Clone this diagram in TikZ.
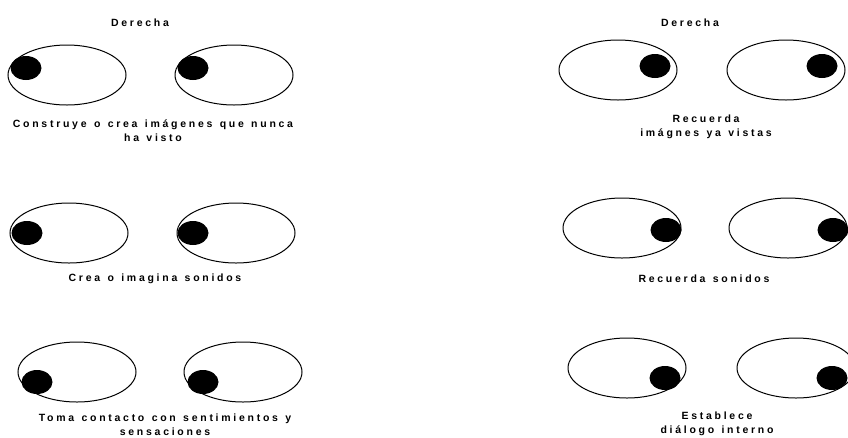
\documentclass[tikz,border=0pt]{standalone}
\usepackage{fontspec}
\newfontfamily\capfont{Liberation Sans}[LetterSpace=26, WordSpace=1.3]
\usepackage{tikz}
\usetikzlibrary{shapes.geometric}

\tikzset{
  eye/.style={draw, ellipse, line width=1pt, minimum width=118pt, minimum height=60pt, inner sep=0pt},
  pupil/.style={fill=black, ellipse, minimum width=31pt, minimum height=24pt, inner sep=0pt},
  caption/.style={font=\capfont\bfseries\fontsize{10.5}{14}\selectfont, align=center, inner sep=0pt}
}

\begin{document}
\begin{tikzpicture}[x=1pt, y=-1pt]
  \useasboundingbox (0,0) rectangle (848,437);

  % left column
  \node[caption] (derL) at (140,23) {Derecha};

  \node[eye] (eyeLa1) at (67,75) {};
  \node[eye] (eyeLb1) at (234,75) {};
  \node[pupil] (pupLa1) at (26,68) {};
  \node[pupil] (pupLb1) at (193,68) {};
  \node[caption] (capL1) at (153,131) {Construye o crea imágenes que nunca\\ha visto};

  \node[eye] (eyeLa2) at (69,233) {};
  \node[eye] (eyeLb2) at (236,233) {};
  \node[pupil] (pupLa2) at (27,233) {};
  \node[pupil] (pupLb2) at (193,233) {};
  \node[caption] (capL2) at (155,279) {Crea o imagina sonidos};

  \node[eye] (eyeLa3) at (77,372) {};
  \node[eye] (eyeLb3) at (243,372) {};
  \node[pupil] (pupLa3) at (37,382) {};
  \node[pupil] (pupLb3) at (203,382) {};
  \node[caption] (capL3) at (165,425) {Toma contacto con sentimientos y\\sensaciones};

  % right column
  \node[caption] (derR) at (690,23) {Derecha};

  \node[eye] (eyeRa1) at (618,70) {};
  \node[eye] (eyeRb1) at (786,70) {};
  \node[pupil] (pupRa1) at (655,66) {};
  \node[pupil] (pupRb1) at (822,66) {};
  \node[caption] (capR1) at (706,127) {Recuerda\\imágnes ya vistas};

  \node[eye] (eyeRa2) at (622,228) {};
  \node[eye] (eyeRb2) at (788,228) {};
  \node[pupil] (pupRa2) at (666,230) {};
  \node[pupil] (pupRb2) at (833,230) {};
  \node[caption] (capR2) at (704,279) {Recuerda sonidos};

  \node[eye] (eyeRa3) at (627,368) {};
  \node[eye] (eyeRb3) at (796,368) {};
  \node[pupil] (pupRa3) at (665,378) {};
  \node[pupil] (pupRb3) at (832,378) {};
  \node[caption] (capR3) at (717,424) {Establece\\diálogo interno};
\end{tikzpicture}
\end{document}
